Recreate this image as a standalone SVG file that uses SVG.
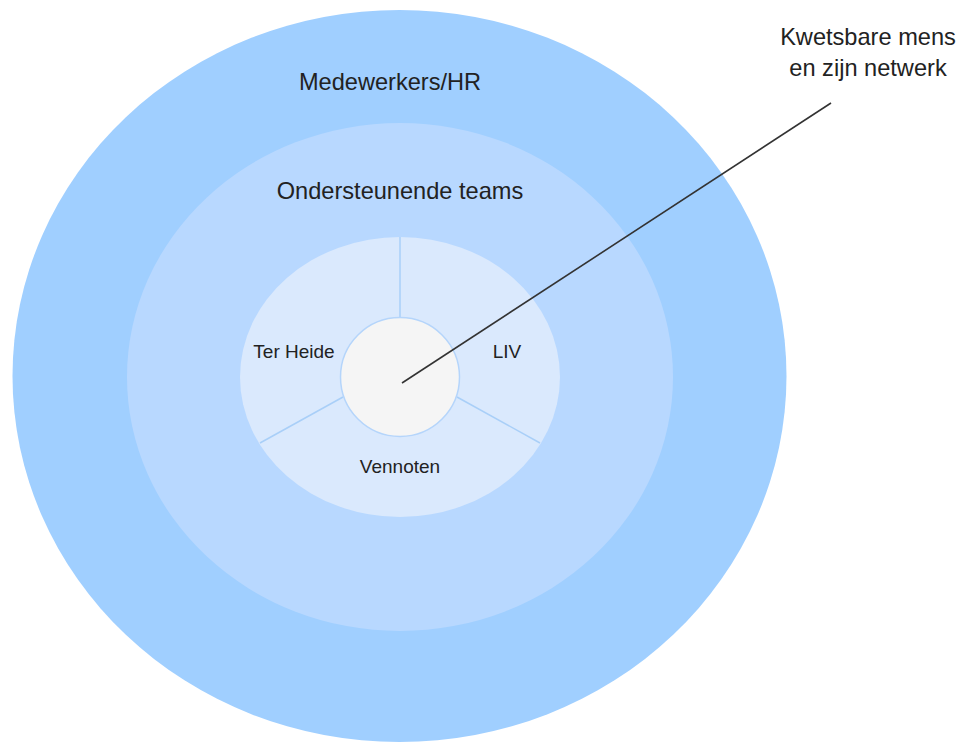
<svg xmlns="http://www.w3.org/2000/svg" width="963" height="743" viewBox="0 0 963 743">
<style>
text{font-family:"Liberation Sans",Arial,sans-serif;fill:#222;text-anchor:middle}
.big{font-size:23.6px}
.small{font-size:19px}
.div{stroke:#a9cff8;stroke-width:1.5;fill:none}
</style>
<rect width="963" height="743" fill="#ffffff"/>
<g id="medewerkers">
<ellipse cx="399.5" cy="376" rx="387" ry="366" fill="#a0cfff"/>
<text class="big" x="390" y="90">Medewerkers/HR</text>
</g>
<g id="ondersteunende">
<ellipse cx="400" cy="377" rx="273" ry="254" fill="#b8d8ff"/>
<text class="big" x="400" y="199">Ondersteunende teams</text>
</g>
<g id="partners">
<ellipse cx="400" cy="377" rx="160" ry="140" fill="#dae9fd"/>
<line class="div" x1="400" y1="237" x2="400" y2="318"/>
<line class="div" x1="260" y1="443" x2="343" y2="397"/>
<line class="div" x1="540" y1="443" x2="457" y2="397"/>
</g>
<g id="ter-heide"><text class="small" x="294" y="358">Ter Heide</text></g>
<g id="liv"><text class="small" x="507" y="358">LIV</text></g>
<g id="vennoten"><text class="small" x="400" y="473">Vennoten</text></g>
<g id="kern">
<circle cx="400" cy="377" r="59.5" fill="#f5f5f5" stroke="#b5d5fb" stroke-width="1.5"/>
</g>
<g id="label-kwetsbare">
<text class="big" x="868" y="45">Kwetsbare mens</text>
<text class="big" x="868" y="76">en zijn netwerk</text>
</g>
<g id="connectors">
<line x1="402" y1="383" x2="831" y2="103" stroke="#333" stroke-width="1.6"/>
</g>
</svg>
